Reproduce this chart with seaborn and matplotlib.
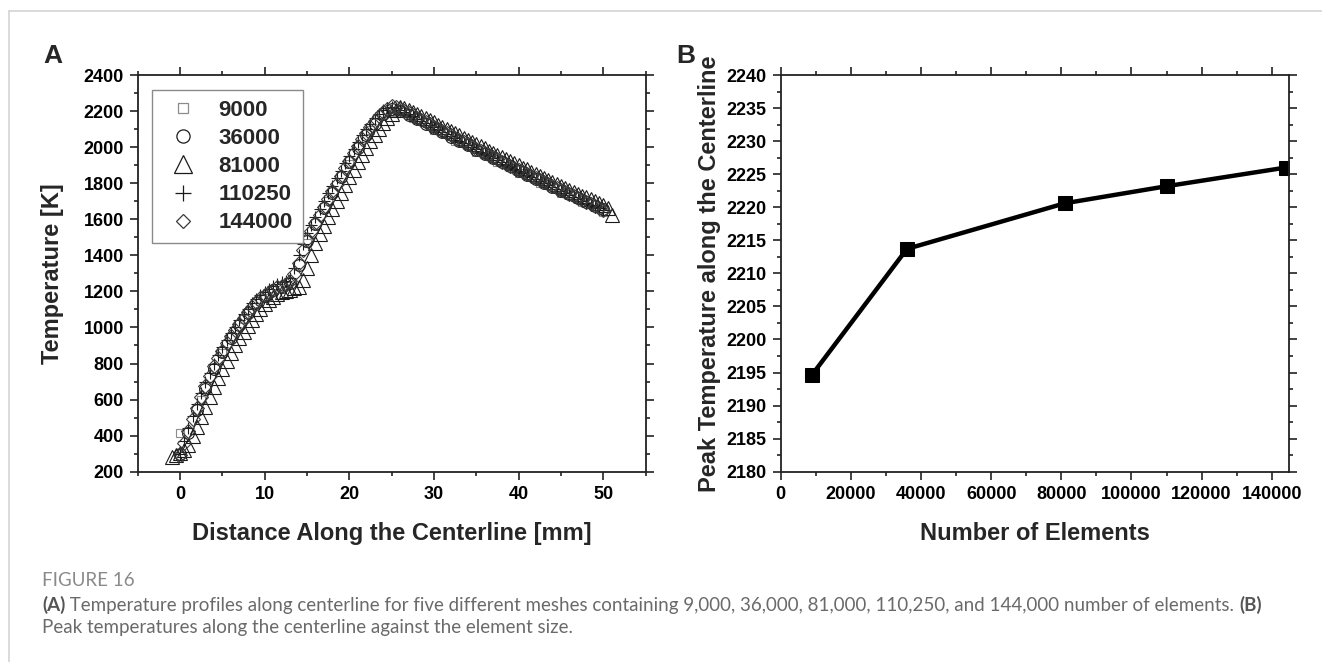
import matplotlib
matplotlib.use("Agg")
import numpy as np
import pandas as pd
import matplotlib.pyplot as plt
import seaborn as sns
from matplotlib.ticker import MultipleLocator
from matplotlib.lines import Line2D

# ---------------- data ----------------
# Panel A: temperature along the centerline for each mesh (x in mm, T in K)
mesh_labels = ["9000", "36000", "81000", "110250", "144000"]

# coarse mesh: stations every 2.5 mm from 0 mm
t_9000 = [416, 600, 858, 1045, 1165, 1228, 1470, 1700, 1905, 2095, 2194.7,
          2160, 2097, 2036, 1975, 1916, 1858, 1802, 1748, 1695, 1643]
start_9000, step_9000 = 0.0, 2.5

# stations every 1 mm from 0 mm
t_36000 = [300, 415, 540, 660, 770, 862, 942, 1012, 1078, 1135,
           1176, 1205, 1226, 1245, 1345, 1480, 1572, 1660, 1747, 1832,
           1915, 1994, 2066, 2130, 2183, 2213.7, 2201, 2178, 2154, 2130,
           2106, 2082, 2058, 2034, 2010, 1986, 1962, 1939, 1916, 1893,
           1870, 1847, 1825, 1803, 1781, 1759, 1738, 1717, 1696, 1675,
           1655]
start_36000, step_36000 = 0.0, 1.0

# stations every 0.5 mm from -1 mm
t_81000 = [281, 292, 305, 322, 350, 398, 450, 505, 560, 615,
           670, 721, 770, 816, 860, 901, 940, 976, 1010, 1043,
           1075, 1102, 1128, 1150, 1168, 1183, 1195, 1203, 1210, 1216,
           1225, 1265, 1330, 1402, 1470, 1520, 1565, 1610, 1655, 1700,
           1745, 1789, 1832, 1874, 1915, 1956, 1995, 2032, 2068, 2102,
           2133, 2161, 2186, 2206, 2220.6, 2216, 2208, 2197, 2185, 2173,
           2161, 2149, 2137, 2125, 2113, 2101, 2089, 2077, 2065, 2053,
           2041, 2029, 2017, 2005, 1993, 1981, 1969, 1957, 1945, 1933,
           1922, 1910, 1899, 1887, 1876, 1864, 1853, 1841, 1830, 1819,
           1808, 1797, 1786, 1775, 1764, 1753, 1742, 1731, 1721, 1710,
           1700, 1689, 1679, 1660, 1625]
start_81000, step_81000 = -1.0, 0.5

# stations every 0.5 mm from 0 mm
t_110250 = [300, 372, 440, 508, 575, 636, 695, 749, 800, 846,
            890, 930, 968, 1005, 1040, 1073, 1105, 1133, 1158, 1180,
            1198, 1214, 1228, 1240, 1250, 1259, 1275, 1330, 1400, 1465,
            1522, 1568, 1612, 1656, 1700, 1743, 1786, 1828, 1870, 1911,
            1952, 1992, 2030, 2066, 2100, 2131, 2160, 2185, 2205, 2218,
            2223.2, 2216, 2207, 2195, 2183, 2171, 2158, 2146, 2134, 2122,
            2109, 2097, 2085, 2073, 2060, 2048, 2036, 2024, 2011, 1999,
            1987, 1975, 1963, 1951, 1939, 1927, 1915, 1903, 1892, 1880,
            1869, 1857, 1846, 1835, 1823, 1812, 1800, 1789, 1778, 1767,
            1756, 1745, 1734, 1723, 1712, 1702, 1691, 1681, 1670, 1660,
            1649]
start_110250, step_110250 = 0.0, 0.5

# stations every 0.5 mm from 0 mm
t_144000 = [290, 358, 425, 490, 555, 616, 675, 731, 785, 829,
            870, 911, 950, 986, 1020, 1053, 1085, 1113, 1140, 1162,
            1182, 1197, 1210, 1222, 1232, 1242, 1255, 1295, 1360, 1428,
            1490, 1536, 1580, 1624, 1668, 1712, 1755, 1798, 1840, 1883,
            1925, 1966, 2005, 2043, 2078, 2112, 2143, 2171, 2195, 2214,
            2226, 2221, 2212, 2200, 2188, 2176, 2163, 2151, 2139, 2127,
            2114, 2102, 2090, 2078, 2065, 2053, 2041, 2029, 2016, 2004,
            1992, 1980, 1968, 1956, 1944, 1932, 1920, 1908, 1897, 1885,
            1874, 1862, 1851, 1840, 1828, 1817, 1805, 1794, 1783, 1772,
            1761, 1750, 1739, 1728, 1717, 1707, 1696, 1686, 1675, 1665,
            1654]
start_144000, step_144000 = 0.0, 0.5

# Panel B: peak centerline temperature against number of elements
n_elements = [9000, 36000, 81000, 110250, 144000]
peak_temp = [2194.7, 2213.7, 2220.6, 2223.2, 2226.0]

# ---------------- style ----------------
sns.set_theme(style="ticks")
plt.rcParams["font.family"] = ["Liberation Sans", "DejaVu Sans"]
plt.rcParams["font.weight"] = "bold"
plt.rcParams["axes.linewidth"] = 1.2

fig = plt.figure(figsize=(13.22, 6.62), dpi=100)
fig.patch.set_facecolor("white")

axA = fig.add_axes([0.10416, 0.28746, 0.38419, 0.59924])
axB = fig.add_axes([0.59054, 0.28746, 0.38470, 0.59924])

# (temps, first station, spacing, marker, plot size, legend size, colour)
series = [
    (t_9000, start_9000, step_9000, "s", 5.5, 6.5, "#8c8c8c"),
    (t_36000, start_36000, step_36000, "o", 8.5, 9.5, "#1a1a1a"),
    (t_81000, start_81000, step_81000, "^", 10.5, 13.0, "#1a1a1a"),
    (t_110250, start_110250, step_110250, "+", 9.0, 11.0, "#1a1a1a"),
    (t_144000, start_144000, step_144000, "D", 7.0, 7.0, "#3a3a3a"),
]

handles = []
for (ts, x0, dx, mk, ms, ms_leg, col), lab in zip(series, mesh_labels):
    xs = x0 + dx * np.arange(len(ts))
    df = pd.DataFrame({"x": xs, "T": ts})
    sns.lineplot(data=df, x="x", y="T", ax=axA, estimator=None, sort=False,
                 linestyle="none", marker=mk, markersize=ms,
                 markerfacecolor="none", markeredgecolor=col,
                 markeredgewidth=0.8, color=col)
    handles.append(Line2D([], [], linestyle="none", marker=mk,
                          markersize=ms_leg, markerfacecolor="none",
                          markeredgecolor=col, markeredgewidth=0.9,
                          label=lab))

dfB = pd.DataFrame({"n": n_elements, "T": peak_temp})
sns.lineplot(data=dfB, x="n", y="T", ax=axB, estimator=None, sort=False,
             color="black", linewidth=3.2, marker="s", markersize=9.5,
             markerfacecolor="black", markeredgecolor="black")

# ---------------- axes ----------------
tick_font = 13
label_font = 17

axA.set_xlim(-5, 55)
axA.set_ylim(200, 2400)
axA.xaxis.set_major_locator(MultipleLocator(10))
axA.xaxis.set_minor_locator(MultipleLocator(5))
axA.yaxis.set_major_locator(MultipleLocator(200))
axA.yaxis.set_minor_locator(MultipleLocator(100))
axA.set_xlabel("Distance Along the Centerline [mm]", fontsize=label_font,
               fontweight="bold", labelpad=14)
axA.set_ylabel("Temperature [K]", fontsize=label_font, fontweight="bold",
               labelpad=14)

axB.set_xlim(0, 145000)
axB.set_ylim(2180, 2240)
axB.xaxis.set_major_locator(MultipleLocator(20000))
axB.xaxis.set_minor_locator(MultipleLocator(10000))
axB.yaxis.set_major_locator(MultipleLocator(5))
axB.yaxis.set_minor_locator(MultipleLocator(2.5))
axB.set_xlabel("Number of Elements", fontsize=label_font, fontweight="bold",
               labelpad=14)
axB.set_ylabel("Peak Temperature along the Centerline", fontsize=label_font,
               fontweight="bold", labelpad=4)

for ax in (axA, axB):
    for s in ax.spines.values():
        s.set_visible(True)
        s.set_color("#222222")
        s.set_linewidth(1.3)
    ax.tick_params(which="both", direction="out", top=True, right=True,
                   labeltop=False, labelright=False, colors="#222222",
                   width=1.2)
    ax.tick_params(which="major", length=6, pad=4, labelsize=tick_font,
                   labelcolor="black")
    ax.tick_params(which="minor", length=3)
    for lbl in ax.get_xticklabels() + ax.get_yticklabels():
        lbl.set_fontweight("bold")
    ax.set_facecolor("white")
    ax.grid(False)

leg = axA.legend(handles=handles, loc="upper left",
                 bbox_to_anchor=(0.0282, 0.9622), borderaxespad=0,
                 frameon=True, fancybox=False, framealpha=1,
                 edgecolor="#8a8a8a", prop={"weight": "bold", "size": 16},
                 handlelength=1.9, handletextpad=0.65, borderpad=0.45,
                 labelspacing=0.32)
leg.get_frame().set_linewidth(1.0)

# panel letters
fig.text(43 / 1322, 1 - 63 / 662, "A", fontsize=19, fontweight="bold",
         ha="left", va="baseline")
fig.text(676 / 1322, 1 - 63 / 662, "B", fontsize=19, fontweight="bold",
         ha="left", va="baseline")

# page frame lines
fig.add_artist(Line2D([9 / 1322, 1.0], [1 - 11 / 662, 1 - 11 / 662],
                      transform=fig.transFigure, color="#d4d4d4", lw=1.2))
fig.add_artist(Line2D([9 / 1322, 9 / 1322], [0.0, 1 - 11 / 662],
                      transform=fig.transFigure, color="#d4d4d4", lw=1.2))

# caption
cap_family = ["Lato", "DejaVu Sans"]
cap_size = 13.5
fig.text(42 / 1322, 1 - 586 / 662, "FIGURE 16", fontsize=13.5,
         family=cap_family, fontweight="normal", color="#8a8a8a",
         ha="left", va="baseline")
t1 = fig.text(42 / 1322, 1 - 611 / 662, "(A)", fontsize=cap_size,
              family=cap_family, fontweight="bold", color="#555555",
              ha="left", va="baseline")
cap_mid = axA.annotate(" Temperature profiles along centerline for five "
                       "different meshes containing 9,000, 36,000, 81,000, "
                       "110,250, and 144,000 number of elements. ",
                       xy=(1, 0), xycoords=t1, va="bottom", ha="left",
                       fontsize=cap_size, family=cap_family,
                       fontweight="normal", color="#6a6a6a",
                       annotation_clip=False)
axA.annotate("(B)", xy=(1, 0), xycoords=cap_mid, va="bottom", ha="left",
             fontsize=cap_size, family=cap_family, fontweight="bold",
             color="#555555", annotation_clip=False)
fig.text(42 / 1322, 1 - 633 / 662,
         "Peak temperatures along the centerline against the element size.",
         fontsize=cap_size, family=cap_family, fontweight="normal",
         color="#6a6a6a", ha="left", va="baseline")

fig.savefig("out.png", dpi=100, facecolor="white")
